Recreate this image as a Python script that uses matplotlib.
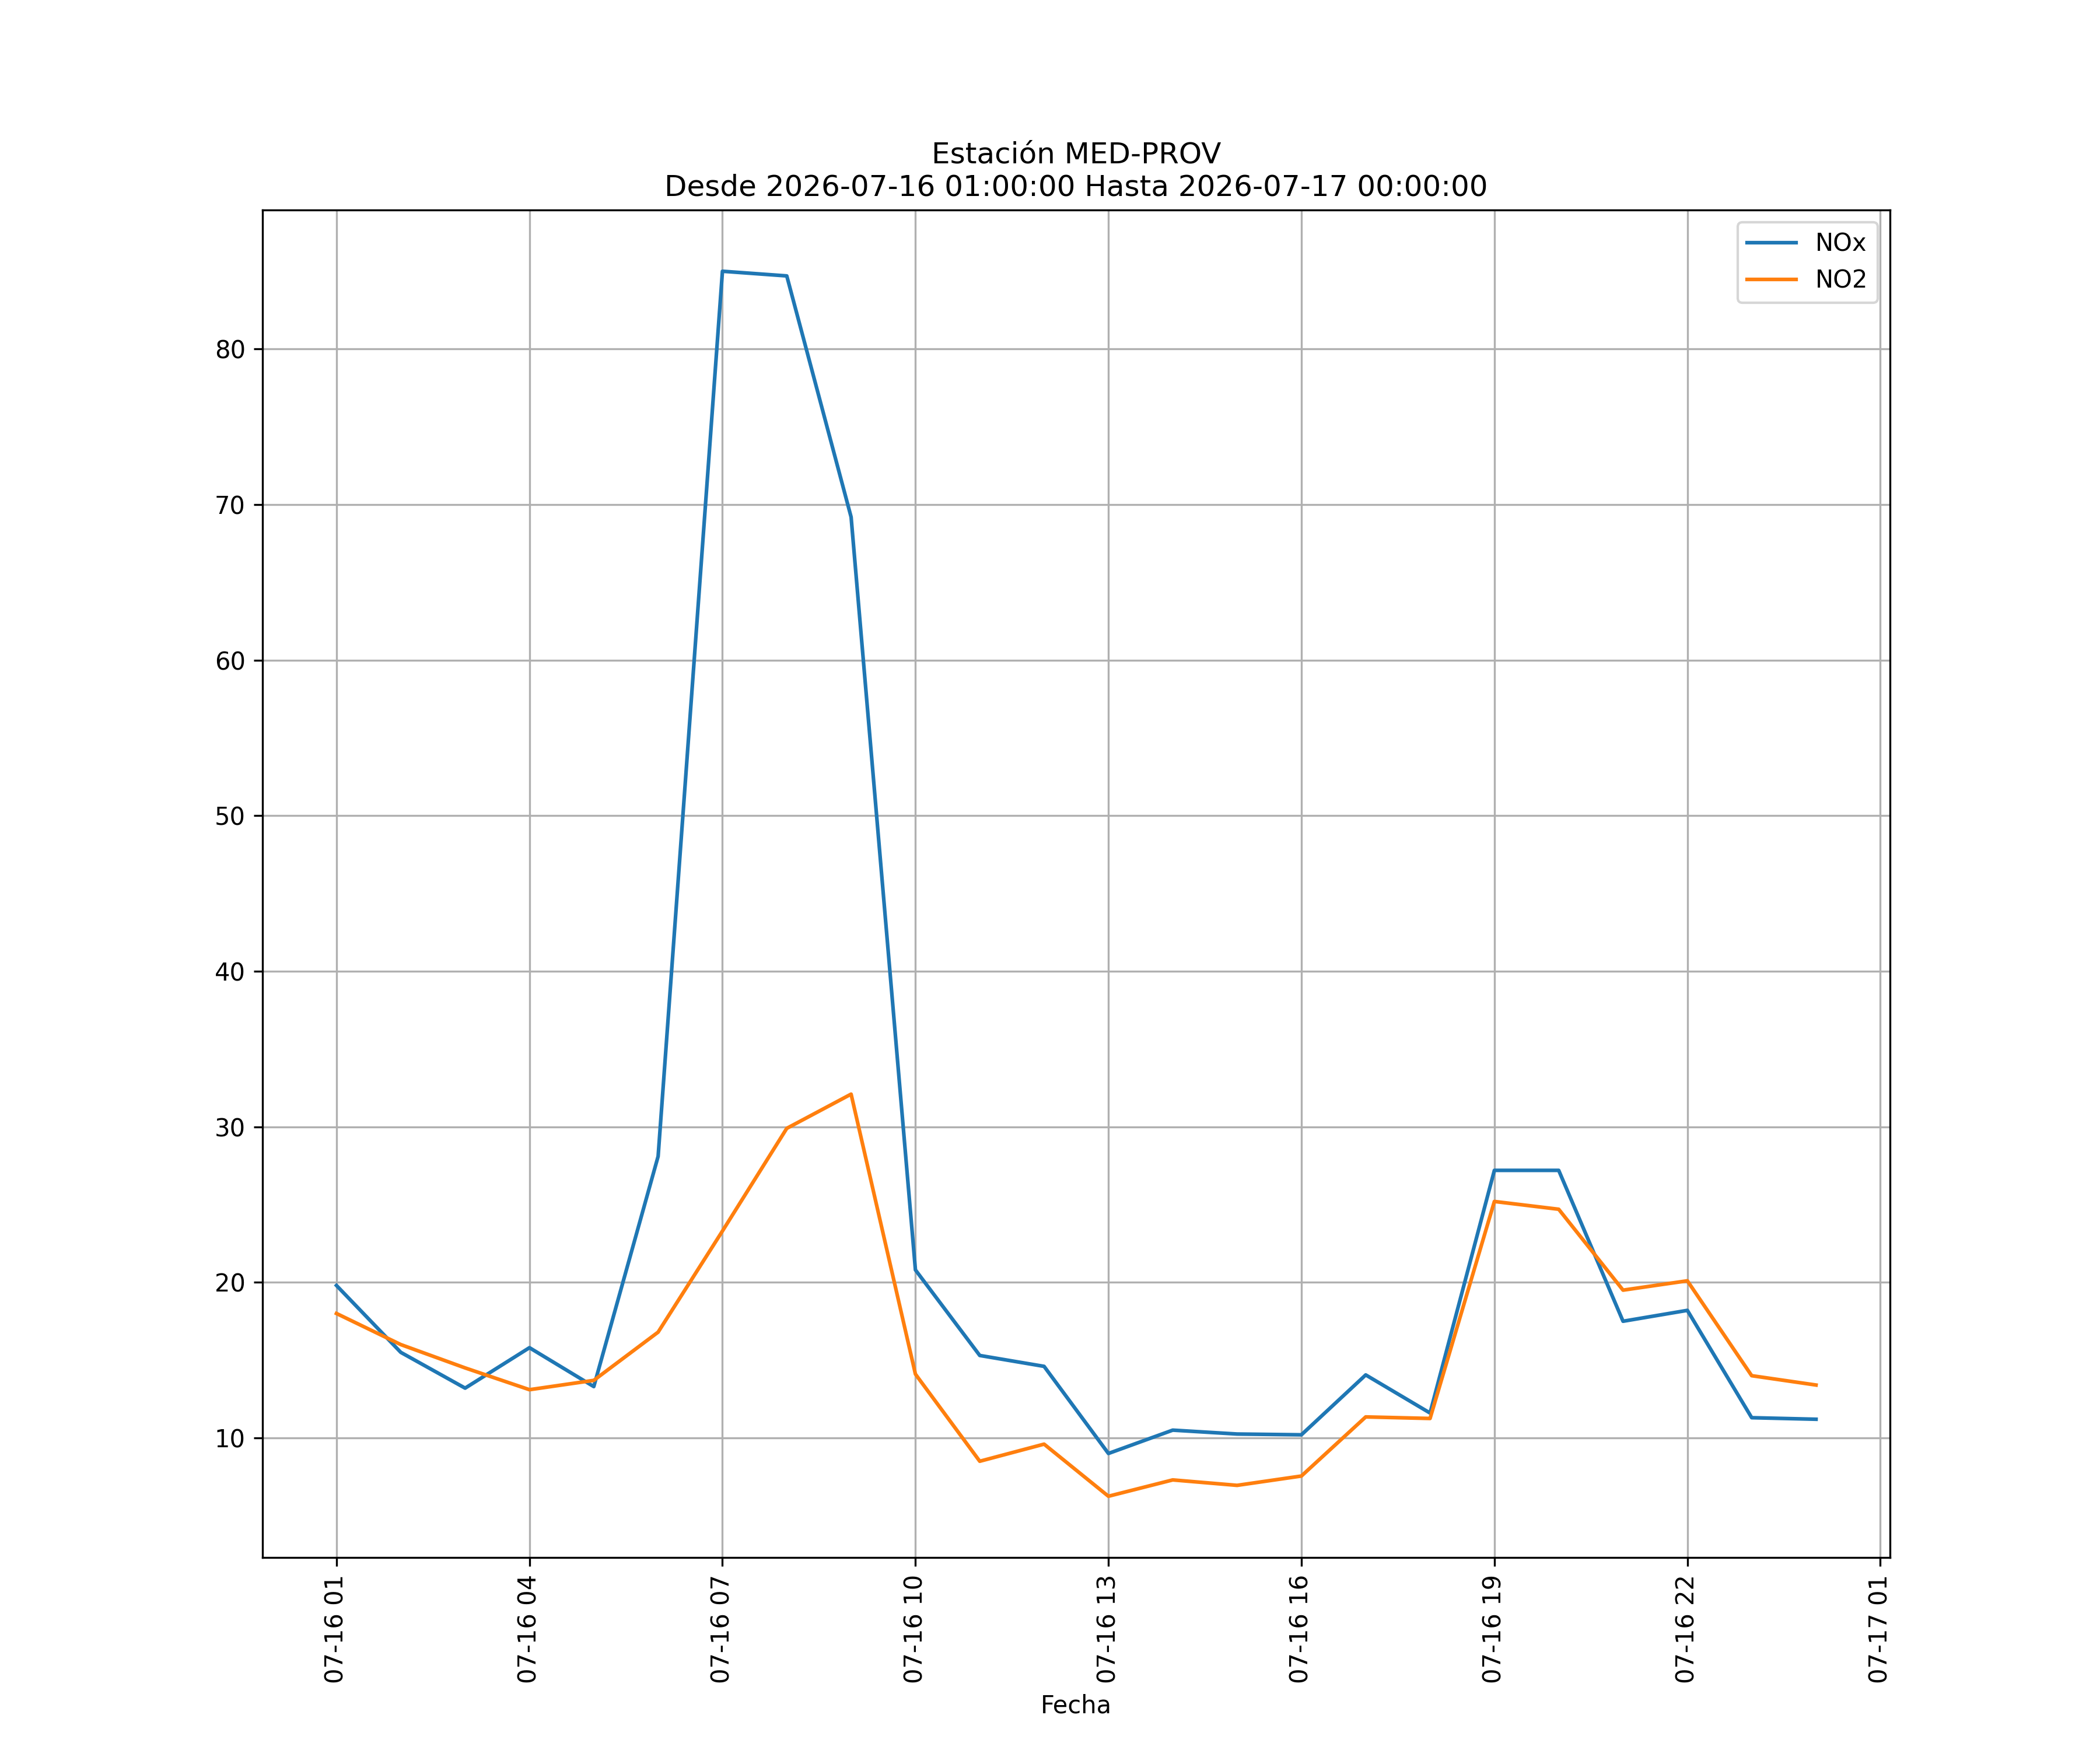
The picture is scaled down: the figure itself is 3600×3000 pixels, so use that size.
import pandas as pd
import matplotlib
matplotlib.use("Agg")
import matplotlib.pyplot as plt
import matplotlib.dates as mdates

estacion = "MED-PROV"
desde = "2026-07-16 01:00:00"
hasta = "2026-07-17 00:00:00"

fechas = pd.date_range(desde, hasta, freq="h")

nox = [19.8, 15.5, 13.2, 15.8, 13.3, 28.1, 85.0, 84.7, 69.2, 20.8, 15.3, 14.6,
       9.0, 10.5, 10.25, 10.2, 14.05, 11.6, 27.2, 27.2, 17.5, 18.2, 11.3, 11.2]
no2 = [18.0, 16.0, 14.5, 13.1, 13.7, 16.8, 23.3, 29.9, 32.1, 14.1, 8.5, 9.6,
       6.25, 7.3, 6.95, 7.55, 11.35, 11.25, 25.2, 24.7, 19.5, 20.1, 14.0, 13.4]

fig, ax = plt.subplots(figsize=(12, 10), dpi=300)
ax.plot(fechas, nox, label="NOx", linewidth=1.5)
ax.plot(fechas, no2, label="NO2", linewidth=1.5)

ax.xaxis.set_major_locator(mdates.HourLocator(byhour=range(1, 24, 3)))
ax.xaxis.set_major_formatter(mdates.DateFormatter("%m-%d %H"))
plt.xticks(rotation=90)
ax.set_xlabel("Fecha")
ax.set_title("Estación " + estacion + "\nDesde " + desde + " Hasta " + hasta)
ax.grid(True)
ax.legend(loc="upper right")

plt.savefig("out.png", dpi=300)
